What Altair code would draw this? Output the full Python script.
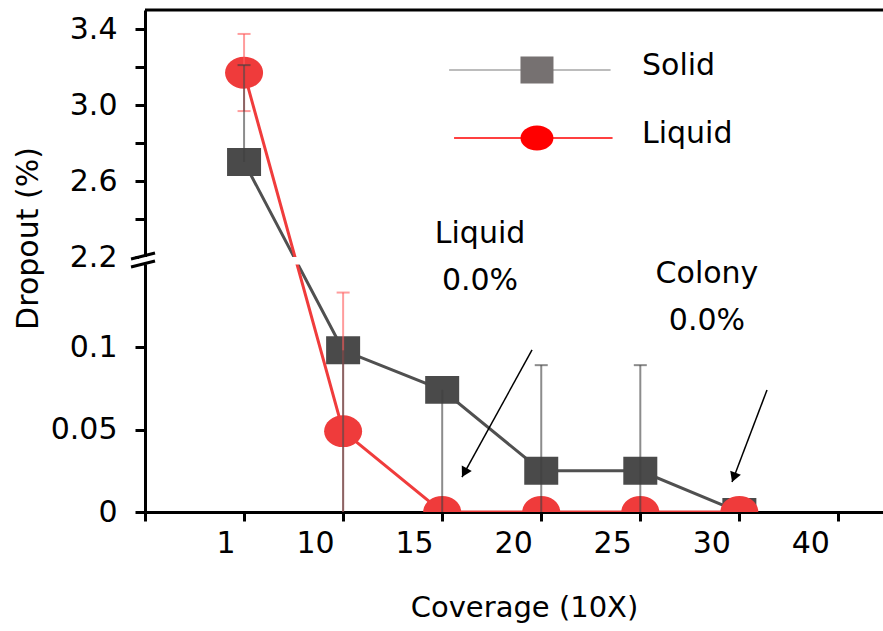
import json
import altair as alt
import pandas as pd

# ---------------- data ----------------
coverage = ["1", "10", "15", "20", "25", "30"]
x_labels = ["", "1", "10", "15", "20", "25", "30", "40"]
solid = [2.70, 0.098, 0.074, 0.025, 0.025, 0.0]
liquid = [3.17, 0.049, 0.0, 0.0, 0.0, 0.0]
solid_err_low = [2.70, 0.0, 0.0, 0.0, 0.0, None]
solid_err_high = [3.21, 0.098, 0.074, 0.089, 0.089, None]
liquid_err_low = [2.968, 0.0, None, None, None, None]
liquid_err_high = [3.374, 0.133, None, None, None, None]
y_ticks = [0, 0.05, 0.1, 2.2, 2.4, 2.6, 2.8, 3.0, 3.2, 3.4]
series_names = ["Solid", "Liquid"]
notes = ["Liquid\n0.0%", "Colony\n0.0%"]

FONT = "DejaVu Sans"
W, H = 738, 502

pos = [x_labels.index(c) for c in coverage]
df = pd.DataFrame({"pos": pos, "coverage": coverage, "solid": solid, "liquid": liquid})


def err_tables(vals, lo, hi):
    bars, caps = [], []
    for p, v, l, h in zip(pos, vals, lo, hi):
        if l is None or h is None:
            continue
        bars.append({"pos": p, "lo": l, "hi": h})
        if h > v:
            caps.append({"pos": p, "y": h})
        if l < v and l > 0:
            caps.append({"pos": p, "y": l})
    return pd.DataFrame(bars), pd.DataFrame(caps)


solid_bars, solid_caps = err_tables(solid, solid_err_low, solid_err_high)
liquid_bars, liquid_caps = err_tables(liquid, liquid_err_low, liquid_err_high)

# ---------------- scales / axes ----------------
x_scale = alt.Scale(domain=[0, 7.45], nice=False, zero=False)
# broken (piecewise) y scale: 0..0.15 lower panel, 2.2..3.5 upper panel
y_scale = alt.Scale(domain=[0, 0.15, 2.2, 3.5], range=[H, 254.5, 247, 0],
                    nice=False, zero=False)

x_axis = alt.Axis(
    values=list(range(len(x_labels))),
    labelExpr=json.dumps(x_labels) + "[datum.value]",
    title="Coverage (10X)", titleFont=FONT, titleFontSize=29, titleFontWeight="normal",
    titleColor="black", titleX=379, titleY=104, titleAlign="center",
    titleBaseline="alphabetic", titleAnchor="start",
    labelFont=FONT, labelFontSize=30, labelColor="black", labelAlign="right",
    labelOffset=-9, labelBaseline="alphabetic", labelPadding=31, labelFlush=False,
    labelOverlap=False, labelBound=False,
    domainColor="black", domainWidth=3, tickColor="black", tickWidth=3, tickSize=9,
    grid=False, zindex=0,
)
y_axis = alt.Axis(
    values=y_ticks,
    labelExpr="datum.value < 1 ? (datum.value == 0 ? '0' : format(datum.value, '')) : "
              "(round(datum.value * 10) % 4 == 2 ? format(datum.value, '.1f') : '')",
    title="Dropout (%)", titleFont=FONT, titleFontSize=30, titleFontWeight="normal",
    titleColor="black", titleX=-117, titleY=228, titleAngle=-90, titleAlign="center",
    titleBaseline="middle", titleAnchor="start",
    labelFont=FONT, labelFontSize=30, labelColor="black", labelAlign="right",
    labelBaseline="middle", labelPadding=18, labelFlush=False, labelOverlap=False,
    labelBound=False,
    domainColor="black", domainWidth=3, tickColor="black", tickWidth=3, tickSize=10,
    grid=False, zindex=0,
)


def X(f):
    return alt.X(f, type="quantitative", scale=x_scale, axis=x_axis)


def X2(f):
    return alt.X2(f)


def Y(f):
    return alt.Y(f, type="quantitative", scale=y_scale, axis=y_axis)


SQUARE = "M-1,-0.82H1V0.82H-1Z"
ELLIPSE = "M-1,0A1,0.84,0,1,0,1,0A1,0.84,0,1,0,-1,0Z"
ELLIPSE_LEG = "M-1,0A1,0.76,0,1,0,1,0A1,0.76,0,1,0,-1,0Z"

base = alt.Chart(df)
solid_line = base.mark_line(color="#505050", strokeWidth=3, clip=True).encode(x=X("pos"), y=Y("solid"))
solid_pts = base.mark_point(shape=SQUARE, filled=True, size=1156, color="#4a4a4a",
                            opacity=1, clip=True).encode(x=X("pos"), y=Y("solid"))
liquid_line = base.mark_line(color="#f03c3c", strokeWidth=3, clip=True).encode(x=X("pos"), y=Y("liquid"))
liquid_pts = base.mark_point(shape=ELLIPSE, filled=True, size=1444, color="#ef3b3b",
                             opacity=1, clip=True).encode(x=X("pos"), y=Y("liquid"))


def err_layers(bars, caps, color):
    b = alt.Chart(bars).mark_rule(strokeWidth=2, opacity=0.6, color=color, clip=True).encode(
        x=X("pos"), y=Y("lo"), y2=alt.Y2("hi"))
    c = alt.Chart(caps).mark_tick(orient="horizontal", size=13, thickness=2, opacity=0.6,
                                  color=color, clip=True).encode(x=X("pos"), y=Y("y"))
    return [b, c]


err = err_layers(liquid_bars, liquid_caps, "#ff5a5a") + err_layers(solid_bars, solid_caps, "#404040")

# white band of the axis break
gap_df = pd.DataFrame({"x0": [-0.06], "x1": [7.45], "y0": [0.15], "y1": [2.2]})
gap = alt.Chart(gap_df).mark_rect(color="white").encode(
    x=X("x0"), x2=X2("x1"), y=Y("y0"), y2=alt.Y2("y1"))

brk_df = pd.DataFrame({"x0": [-0.141, -0.141], "x1": [0.101, 0.101],
                       "y0": [1.653, 0.1485], "y1": [2.221, 1.107]})
brk = alt.Chart(brk_df).mark_rule(color="black", strokeWidth=3).encode(
    x=X("x0"), x2=X2("x1"), y=Y("y0"), y2=alt.Y2("y1"))

top_df = pd.DataFrame({"y": [3.5]})
top_border = alt.Chart(top_df).mark_rule(color="black", strokeWidth=3).encode(y=Y("y"))

# arrows
arr_df = pd.DataFrame({"x0": [3.907, 6.279], "y0": [0.0982, 0.0739],
                       "x1": [3.200, 5.926], "y1": [0.0212, 0.0182]})
arrows = alt.Chart(arr_df).mark_rule(color="black", strokeWidth=1.5).encode(
    x=X("x0"), x2=X2("x1"), y=Y("y0"), y2=alt.Y2("y1"))
head1 = alt.Chart(pd.DataFrame({"x": [3.224], "y": [0.0239]})).mark_point(
    shape="triangle-up", filled=True, size=130, color="black", opacity=1, angle=208.9
).encode(x=X("x"), y=Y("y"))
head2 = alt.Chart(pd.DataFrame({"x": [5.944], "y": [0.021]})).mark_point(
    shape="triangle-up", filled=True, size=130, color="black", opacity=1, angle=200.8
).encode(x=X("x"), y=Y("y"))

note_df = pd.DataFrame({"x": [3.382, 5.673], "y": [2.2737, 0.1388], "t": notes})
note_text = alt.Chart(note_df).mark_text(
    font=FONT, fontSize=30, color="black", align="center", baseline="alphabetic",
    lineBreak="\n", lineHeight=47
).encode(x=X("x"), y=Y("y"), text="t:N")

# manual legend
leg_solid_line = alt.Chart(pd.DataFrame({"x0": [3.07], "x1": [4.70], "y": [3.184]})).mark_rule(
    strokeWidth=1.5, color="#a6a6a6").encode(x=X("x0"), x2=X2("x1"), y=Y("y"))
leg_liquid_line = alt.Chart(pd.DataFrame({"x0": [3.12], "x1": [4.72], "y": [2.826]})).mark_rule(
    strokeWidth=1.5, color="#ff0000").encode(x=X("x0"), x2=X2("x1"), y=Y("y"))
leg_sq = alt.Chart(pd.DataFrame({"x": [3.957], "y": [3.184]})).mark_point(
    shape=SQUARE, filled=True, size=1089, color="#767171", opacity=1).encode(x=X("x"), y=Y("y"))
leg_ci = alt.Chart(pd.DataFrame({"x": [3.957], "y": [2.826]})).mark_point(
    shape=ELLIPSE_LEG, filled=True, size=1089, color="#ff0000", opacity=1).encode(x=X("x"), y=Y("y"))
leg_text = alt.Chart(pd.DataFrame({"x": [5.017, 5.017], "y": [3.158, 2.80], "t": series_names})).mark_text(
    font=FONT, fontSize=30, color="black", align="left", baseline="alphabetic"
).encode(x=X("x"), y=Y("y"), text="t:N")

chart = alt.layer(
    solid_line, solid_pts, liquid_line, liquid_pts, *err,
    gap, brk, top_border, arrows, head1, head2, note_text,
    leg_solid_line, leg_liquid_line, leg_sq, leg_ci, leg_text,
).properties(
    width=W, height=H,
    padding={"left": 145, "top": 10, "right": 0, "bottom": 119},
    autosize=alt.AutoSizeParams(type="none"),
).configure_view(stroke=None).configure(background="white")

chart.save("out.html", embed_options={"renderer": "svg", "actions": False})
